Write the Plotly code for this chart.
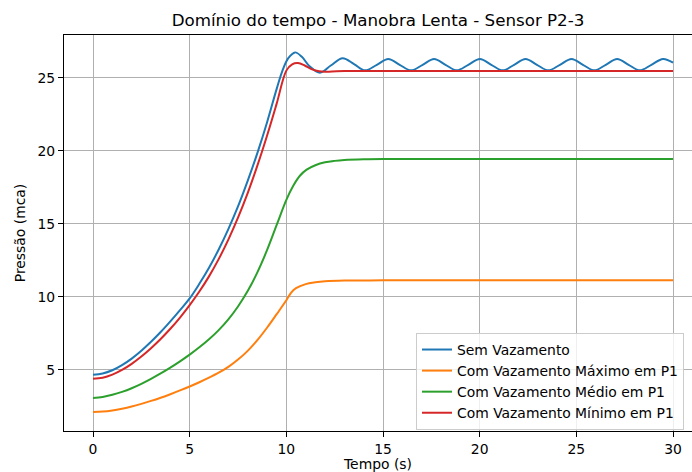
import plotly.graph_objects as go

# Time samples (s) and pressure readings (mca) for each scenario
t_sem = [0, 0.5, 1, 1.5, 2, 2.5, 3, 3.5, 4, 4.5, 5, 5.5, 6, 6.5, 7, 7.5, 8, 8.5, 9, 9.5,
         9.8, 10.1, 10.45, 10.8, 11.2, 11.74, 12.3, 12.91, 13.5, 14.07, 14.68, 15.27,
         15.86, 16.45, 17.05, 17.64, 18.23, 18.82, 19.41, 20.01, 20.6, 21.19, 21.78,
         22.37, 22.96, 23.55, 24.15, 24.75, 25.34, 25.93, 26.52, 27.11, 27.7, 28.29,
         28.88, 29.48, 30]
p_sem = [4.68, 4.76, 4.98, 5.33, 5.78, 6.32, 6.93, 7.6, 8.33, 9.1, 9.9, 10.9, 12.0, 13.25,
         14.65, 16.2, 17.95, 19.85, 21.95, 24.25,
         25.5, 26.35, 26.75, 26.45, 25.8, 25.36, 25.85, 26.35, 25.95, 25.52, 25.9, 26.3,
         25.9, 25.52, 25.9, 26.3, 25.9, 25.52, 25.9, 26.3, 25.9, 25.52, 25.9,
         26.3, 25.9, 25.52, 25.9, 26.3, 25.9, 25.52, 25.9, 26.3, 25.9, 25.52,
         25.9, 26.3, 26.05]

t_max = [0, 0.5, 1, 1.5, 2, 2.5, 3, 3.5, 4, 4.5, 5, 5.5, 6, 6.5, 7, 7.5, 8, 8.5, 9, 9.5,
         10, 10.25, 10.5, 11, 11.5, 12, 13, 14, 15, 20, 25, 30]
p_max = [2.12, 2.15, 2.23, 2.35, 2.5, 2.68, 2.88, 3.1, 3.34, 3.6, 3.87, 4.16, 4.47, 4.81,
         5.21, 5.71, 6.31, 7.04, 7.89, 8.82, 9.77, 10.3, 10.6, 10.88, 11.0, 11.07, 11.12,
         11.13, 11.14, 11.14, 11.14, 11.14]

t_med = [0, 0.5, 1, 1.5, 2, 2.5, 3, 3.5, 4, 4.5, 5, 5.5, 6, 6.5, 7, 7.5, 8, 8.5, 9, 9.5,
         10, 10.35, 10.7, 11.05, 11.5, 12, 12.5, 13, 14, 15, 20, 25, 30]
p_med = [3.08, 3.15, 3.3, 3.5, 3.75, 4.05, 4.39, 4.76, 5.16, 5.59, 6.05, 6.55, 7.1, 7.73,
         8.47, 9.35, 10.4, 11.68, 13.2, 14.93, 16.65, 17.6, 18.3, 18.72, 19.02, 19.22,
         19.32, 19.38, 19.43, 19.45, 19.45, 19.45, 19.45]

t_min = [0, 0.5, 1, 1.5, 2, 2.5, 3, 3.5, 4, 4.5, 5, 5.5, 6, 6.5, 7, 7.5, 8, 8.5, 9, 9.5,
         10, 10.3, 10.6, 10.95, 11.3, 11.7, 12.2, 13, 14, 16, 20, 25, 30]
p_min = [4.4, 4.47, 4.68, 5.0, 5.42, 5.92, 6.49, 7.12, 7.82, 8.59, 9.44, 10.37, 11.41,
         12.59, 13.93, 15.43, 17.11, 18.99, 21.04, 23.24, 25.5, 25.93, 26.02, 25.85, 25.6,
         25.45, 25.43, 25.47, 25.47, 25.47, 25.47, 25.47, 25.47]

series = [
    ("Sem Vazamento", t_sem, p_sem, "#1f77b4"),
    ("Com Vazamento Máximo em P1", t_max, p_max, "#ff7f0e"),
    ("Com Vazamento Médio em P1", t_med, p_med, "#2ca02c"),
    ("Com Vazamento Mínimo em P1", t_min, p_min, "#d62728"),
]

x_ticks = [0, 5, 10, 15, 20, 25, 30]
y_ticks = [5, 10, 15, 20, 25]

FONT = "DejaVu Sans"

fig = go.Figure()
for name, t, p, color in series:
    fig.add_trace(go.Scatter(
        x=t, y=p, name=name, mode="lines",
        line=dict(color=color, width=2, shape="spline", smoothing=1.0),
    ))

axis_common = dict(
    showgrid=True, gridcolor="#b0b0b0", gridwidth=1,
    zeroline=False, showline=True, linecolor="black", linewidth=1.1,
    ticks="outside", ticklen=5, tickwidth=1.1, tickcolor="black",
    tickfont=dict(family=FONT, size=13.9, color="black"),
)

fig.update_layout(
    width=692, height=472,
    margin=dict(l=64, r=0, t=35, b=41),
    paper_bgcolor="white", plot_bgcolor="white",
    font=dict(family=FONT, size=13.9, color="black"),
    title=dict(
        text="Domínio do tempo - Manobra Lenta - Sensor P2-3",
        x=0.5, xref="paper", xanchor="center",
        y=(472 - 20) / 472, yref="container", yanchor="middle",
        font=dict(family=FONT, size=16.7, color="black"),
    ),
    xaxis=dict(
        range=[-1.5, 30.98], tickvals=x_ticks, mirror=True,
        title=dict(text="Tempo (s)", standoff=10, font=dict(family=FONT, size=13.9)),
        automargin=False, **axis_common,
    ),
    yaxis=dict(
        range=[0.82, 27.94], tickvals=y_ticks,
        title=dict(text="Pressão (mca)", standoff=8, font=dict(family=FONT, size=13.9)),
        automargin=False, **axis_common,
    ),
    legend=dict(
        x=0.5605, y=0.2475, xanchor="left", yanchor="top",
        bgcolor="rgba(255,255,255,0.8)", bordercolor="#cccccc", borderwidth=1,
        font=dict(family=FONT, size=13.9, color="black"),
    ),
    showlegend=True,
)

fig.write_html("out.html")
